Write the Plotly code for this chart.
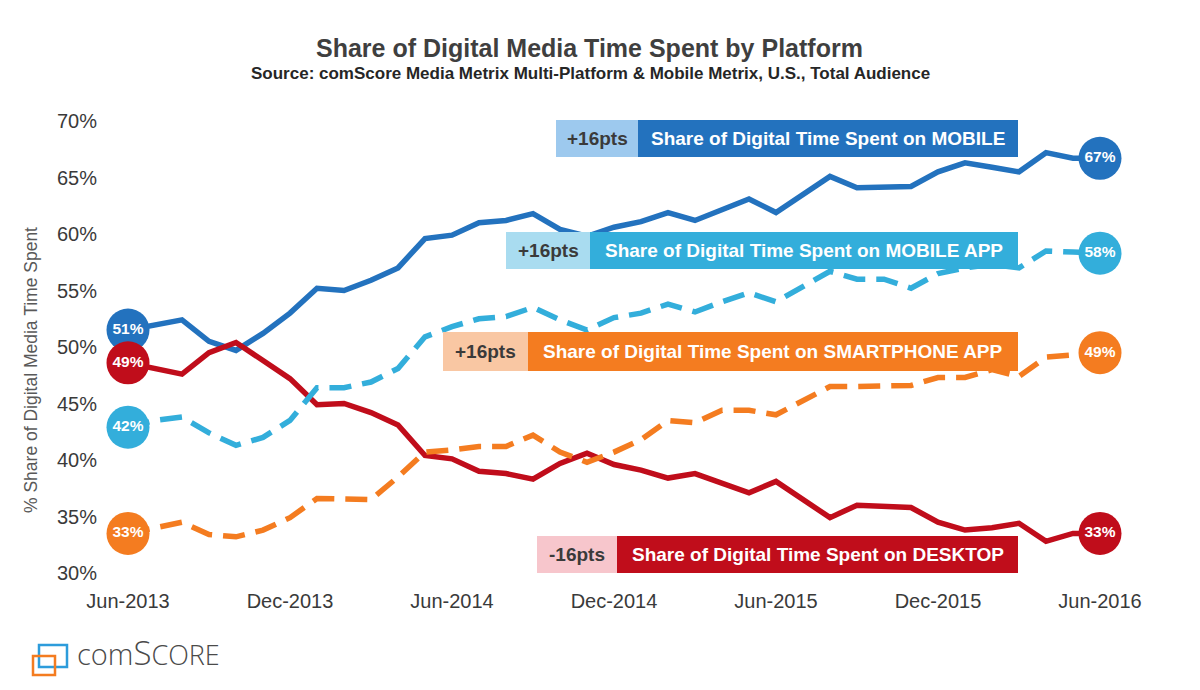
import plotly.graph_objects as go
import pandas as pd

# ---------------- data ----------------
months = [d.strftime("%b-%Y") for d in pd.date_range("2013-06-01", periods=37, freq="MS")]
tick_labels = ["Jun-2013", "Dec-2013", "Jun-2014", "Dec-2014", "Jun-2015", "Dec-2015", "Jun-2016"]

mobile = [51.5, 51.9, 52.4, 50.5, 49.7, 51.2, 53.0, 55.2, 55.0, 55.9, 57.0, 59.6, 59.9,
          61.0, 61.2, 61.8, 60.4, 59.8, 60.6, 61.1, 61.9, 61.2, 62.1, 63.1, 61.9,
          63.5, 65.1, 64.1, 64.2, 64.2, 65.5, 66.3, 65.9, 65.5, 67.2, 66.7, 66.7]
desktop = [48.6, 48.1, 47.6, 49.5, 50.4, 48.8, 47.2, 44.9, 45.0, 44.2, 43.1, 40.4, 40.1,
           39.0, 38.8, 38.3, 39.7, 40.6, 39.6, 39.1, 38.4, 38.8, 37.9, 37.1, 38.1,
           36.5, 34.9, 36.0, 35.9, 35.8, 34.5, 33.8, 34.0, 34.4, 32.8, 33.5, 33.5]
mobile_app = [42.9, 43.5, 43.8, 42.4, 41.3, 42.0, 43.5, 46.4, 46.4, 46.9, 48.1, 50.9, 51.8,
              52.5, 52.7, 53.5, 52.4, 51.5, 52.6, 53.0, 53.8, 53.1, 54.0, 54.8, 54.0,
              55.3, 56.7, 56.0, 56.0, 55.2, 56.5, 57.0, 57.3, 57.0, 58.5, 58.4, 58.3]
smartphone_app = [33.5, 34.0, 34.5, 33.4, 33.2, 33.8, 34.9, 36.6, 36.5, 36.5, 38.5, 40.7, 40.9,
                  41.2, 41.2, 42.2, 40.7, 39.8, 40.7, 41.8, 43.5, 43.3, 44.4, 44.4, 44.0,
                  45.3, 46.5, 46.5, 46.5, 46.6, 47.3, 47.3, 48.0, 47.4, 49.1, 49.3, 49.5]

start_labels = ["51%", "49%", "42%", "33%"]
end_labels = ["67%", "33%", "58%", "49%"]
change_labels = ["+16pts", "-16pts", "+16pts", "+16pts"]
series_names = ["Share of Digital Time Spent on MOBILE",
                "Share of Digital Time Spent on DESKTOP",
                "Share of Digital Time Spent on MOBILE APP",
                "Share of Digital Time Spent on SMARTPHONE APP"]

# ---------------- styles ----------------
colors = ["#2372BE", "#C00D1B", "#33AEDB", "#F47C20"]
light_colors = ["#9DC9EE", "#F7C6CC", "#A9DCF0", "#F9C7A3"]
dashes = ["solid", "solid", "22px,11px", "22px,11px"]
series_values = [mobile, desktop, mobile_app, smartphone_app]

# page offset (body margin) and plot area in target-picture pixels
OFF = 8
L, R, T, B = 128 - OFF, 1100 - OFF, 121 - OFF, 573 - OFF
W, H = R - L, B - T


def px(x):
    return (x - OFF - L) / W


def py(y):
    return (B - (y - OFF)) / H


# label boxes (left of light box, split, right, top, bottom) in target pixels
boxes = [(556, 638, 1018, 120, 157),
         (537, 617, 1018, 536, 573),
         (506, 590, 1018, 232, 269),
         (443, 528, 1018, 332, 371)]

FONT = "Liberation Sans, Arial, sans-serif"

fig = go.Figure()

for i in [0, 1, 2, 3]:
    fig.add_trace(go.Scatter(
        x=months, y=series_values[i], mode="lines",
        line=dict(color=colors[i], width=5.5, dash=dashes[i]),
        hoverinfo="skip", showlegend=False, cliponaxis=False))

for i in [2, 3, 0, 1]:
    fig.add_trace(go.Scatter(
        x=[months[0], months[-1]], y=[series_values[i][0], series_values[i][-1]],
        mode="markers+text",
        marker=dict(size=43, color=colors[i], line=dict(width=0)),
        text=[start_labels[i], end_labels[i]], textposition="middle center",
        textfont=dict(family=FONT, size=15.5, color="white", weight="bold"),
        hoverinfo="skip", showlegend=False, cliponaxis=False))

shapes = []
annotations = []
for i, (x0, xm, x1, y0, y1) in enumerate(boxes):
    shapes.append(dict(type="rect", xref="paper", yref="paper",
                       x0=px(x0), x1=px(xm), y0=py(y1), y1=py(y0),
                       fillcolor=light_colors[i], line=dict(width=0), layer="above"))
    shapes.append(dict(type="rect", xref="paper", yref="paper",
                       x0=px(xm), x1=px(x1), y0=py(y1), y1=py(y0),
                       fillcolor=colors[i], line=dict(width=0), layer="above"))
    annotations.append(dict(xref="paper", yref="paper", x=px((x0 + xm) / 2), y=py((y0 + y1) / 2),
                            text="<b>%s</b>" % change_labels[i], showarrow=False,
                            font=dict(family=FONT, size=19, color="#3A3A3A"),
                            xanchor="center", yanchor="middle"))
    annotations.append(dict(xref="paper", yref="paper", x=px((xm + x1) / 2), y=py((y0 + y1) / 2),
                            text="<b>%s</b>" % series_names[i], showarrow=False,
                            font=dict(family=FONT, size=19, color="white"),
                            xanchor="center", yanchor="middle"))

# titles
annotations.append(dict(xref="paper", yref="paper", x=px(589), y=py(48),
                        text="<b>Share of Digital Media Time Spent by Platform</b>",
                        showarrow=False, font=dict(family=FONT, size=25, color="#3F3F3F"),
                        xanchor="center", yanchor="middle"))
annotations.append(dict(xref="paper", yref="paper", x=px(590), y=py(74),
                        text="<b>Source: comScore Media Metrix Multi-Platform &amp; Mobile Metrix, U.S., Total Audience</b>",
                        showarrow=False, font=dict(family=FONT, size=17, color="#262626"),
                        xanchor="center", yanchor="middle"))
# y-axis title
annotations.append(dict(xref="paper", yref="paper", x=px(31), y=py(370),
                        text="% Share of Digital Media Time Spent", textangle=-90,
                        showarrow=False, font=dict(family=FONT, size=17.5, color="#595959"),
                        xanchor="center", yanchor="middle"))

# logo
shapes.append(dict(type="rect", xref="paper", yref="paper",
                   x0=px(39), x1=px(67), y0=py(667), y1=py(645),
                   line=dict(color="#2D9CDB", width=2.5), fillcolor="rgba(0,0,0,0)"))
shapes.append(dict(type="rect", xref="paper", yref="paper",
                   x0=px(33), x1=px(55), y0=py(675), y1=py(656),
                   line=dict(color="#F47C20", width=2.5), fillcolor="rgba(0,0,0,0)"))
annotations.append(dict(xref="paper", yref="paper", x=px(75), y=py(677),
                        text="com<span style='font-size:33px'>S</span><span style='font-size:27px'>CORE</span>",
                        showarrow=False, font=dict(family="Open Sans, sans-serif", size=29, color="#4A4A4A", weight=300),
                        xanchor="left", yanchor="bottom"))

fig.update_layout(
    width=1200, height=690,
    margin=dict(l=L, r=1200 - R, t=T, b=690 - B, pad=0),
    paper_bgcolor="white", plot_bgcolor="white",
    showlegend=False,
    shapes=shapes, annotations=annotations,
    xaxis=dict(type="category", categoryorder="array", categoryarray=months,
               range=[0, len(months) - 1], tickmode="array",
               tickvals=tick_labels, ticktext=tick_labels,
               showgrid=False, zeroline=False, showline=False, ticks="",
               tickfont=dict(family=FONT, size=20, color="#3A3A3A"),
               ticklabelstandoff=14, fixedrange=True),
    yaxis=dict(range=[30, 70], tickmode="array",
               tickvals=[30, 35, 40, 45, 50, 55, 60, 65, 70],
               ticktext=["30%", "35%", "40%", "45%", "50%", "55%", "60%", "65%", "70%"],
               showgrid=False, zeroline=False, showline=False, ticks="",
               tickfont=dict(family=FONT, size=20, color="#3A3A3A"),
               ticklabelstandoff=30, fixedrange=True),
)

fig.write_html("out.html")
